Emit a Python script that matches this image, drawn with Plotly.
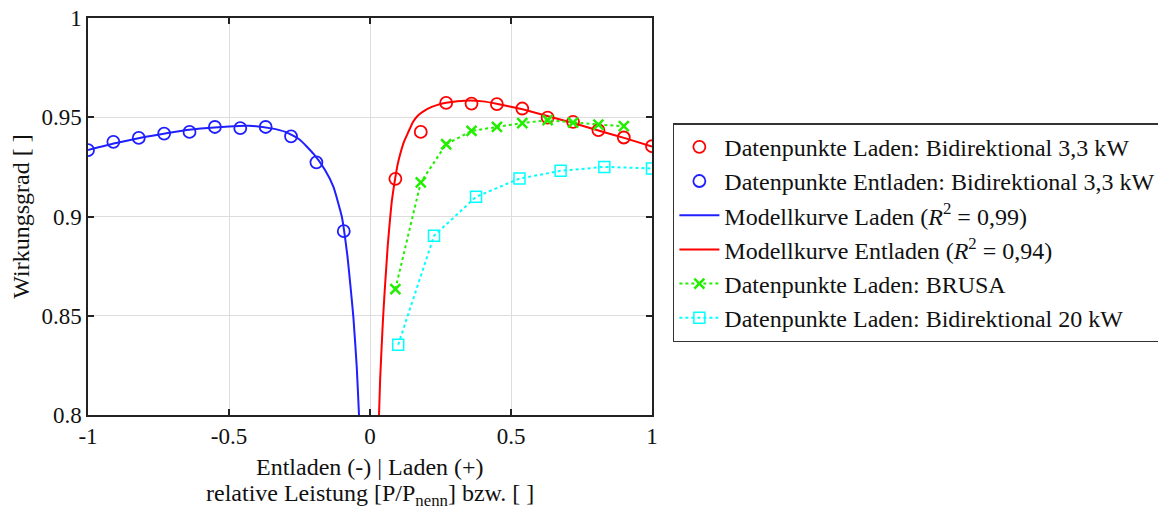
import plotly.graph_objects as go

# ---- data ----
blue_pts_x = [-1.0, -0.91, -0.82, -0.73, -0.64, -0.55, -0.46, -0.37, -0.28, -0.19, -0.093]
blue_pts_y = [0.9334, 0.9376, 0.9396, 0.9418, 0.9426, 0.9451, 0.9445, 0.9451, 0.9404, 0.9273, 0.8926]

red_pts_x = [0.09, 0.18, 0.27, 0.36, 0.45, 0.54, 0.63, 0.72, 0.81, 0.90, 1.0]
red_pts_y = [0.919, 0.9426, 0.9572, 0.9569, 0.9566, 0.9544, 0.9498, 0.9477, 0.9435, 0.9398, 0.9354]

blue_model_x = [-1.0, -0.9, -0.8, -0.7, -0.6, -0.5, -0.43, -0.35, -0.3, -0.25, -0.2, -0.16, -0.13,
                -0.1, -0.092, -0.08, -0.07, -0.059, -0.047, -0.039, -0.036]
blue_model_y = [0.9335, 0.9370, 0.9400, 0.9425, 0.9443, 0.9454, 0.9457, 0.9444, 0.9426, 0.9388,
                0.9315, 0.9235, 0.9150, 0.9000, 0.8930, 0.8800, 0.8660, 0.8494, 0.8242, 0.8000, 0.790]

red_model_x = [0.030, 0.032, 0.036, 0.041, 0.046, 0.051, 0.057, 0.063, 0.070, 0.077, 0.083, 0.089,
               0.097, 0.106, 0.120, 0.136, 0.152, 0.171, 0.195, 0.219, 0.245, 0.27, 0.31,
               0.355, 0.40, 0.449, 0.541, 0.632, 0.723, 0.813, 0.904, 1.0]
red_model_y = [0.790, 0.800, 0.818, 0.8335, 0.848, 0.860, 0.873, 0.8855, 0.897, 0.9074, 0.9135, 0.919,
               0.9255, 0.9309, 0.9375, 0.9426, 0.9475, 0.951, 0.9535, 0.9552, 0.9565, 0.9573, 0.9581,
               0.9585, 0.9580, 0.9568, 0.954, 0.9505, 0.947, 0.9432, 0.9395, 0.9352]

brusa_x = [0.09, 0.18, 0.27, 0.36, 0.45, 0.54, 0.63, 0.72, 0.81, 0.90]
brusa_y = [0.8634, 0.9172, 0.9364, 0.9431, 0.9451, 0.9471, 0.9485, 0.9473, 0.9463, 0.9455]

bidi20_x = [0.10, 0.227, 0.376, 0.53, 0.676, 0.831, 1.0]
bidi20_y = [0.8354, 0.8903, 0.9099, 0.9191, 0.923, 0.925, 0.9242]

x_ticks = [-1, -0.5, 0, 0.5, 1]
x_tick_labels = ["-1", "-0.5", "0", "0.5", "1"]
y_ticks = [0.8, 0.85, 0.9, 0.95, 1]
y_tick_labels = ["0.8", "0.85", "0.9", "0.95", "1"]

x_title_1 = "Entladen (-) | Laden (+)"
x_title_2 = "relative Leistung [P/P<sub>nenn</sub>] bzw. [ ]"
y_title = "Wirkungsgrad [ ]"

RED = "#ff0000"
BLUE = "#1f1fff"
GREEN = "#22ee00"
CYAN = "#00ffff"
FONT = "Liberation Serif, Times New Roman, serif"
TXT = "#111111"

fig = go.Figure()

fig.add_trace(go.Scatter(
    x=red_pts_x, y=red_pts_y, mode="markers",
    name="Datenpunkte Laden: Bidirektional 3,3 kW",
    marker=dict(symbol="circle-open", size=12, color=RED, line=dict(width=1.8, color=RED)),
))
fig.add_trace(go.Scatter(
    x=blue_pts_x, y=blue_pts_y, mode="markers",
    name="Datenpunkte Entladen: Bidirektional 3,3 kW",
    marker=dict(symbol="circle-open", size=12, color=BLUE, line=dict(width=1.8, color=BLUE)),
))
fig.add_trace(go.Scatter(
    x=blue_model_x, y=blue_model_y, mode="lines",
    name="Modellkurve Laden (<i>R</i><sup>2</sup> = 0,99)",
    line=dict(color=BLUE, width=2, shape="spline", smoothing=0.5),
))
fig.add_trace(go.Scatter(
    x=red_model_x, y=red_model_y, mode="lines",
    name="Modellkurve Entladen (<i>R</i><sup>2</sup> = 0,94)",
    line=dict(color=RED, width=2, shape="spline", smoothing=0.3),
))
fig.add_trace(go.Scatter(
    x=brusa_x, y=brusa_y, mode="lines+markers",
    name="Datenpunkte Laden: BRUSA",
    line=dict(color=GREEN, width=2, dash="dot"),
    marker=dict(symbol="x-thin-open", size=10, color=GREEN, line=dict(width=2.5, color=GREEN)),
))
fig.add_trace(go.Scatter(
    x=bidi20_x, y=bidi20_y, mode="lines+markers",
    name="Datenpunkte Laden: Bidirektional 20 kW",
    line=dict(color=CYAN, width=2, dash="dot"),
    marker=dict(symbol="square-open", size=11, color=CYAN, line=dict(width=1.5, color=CYAN)),
))

axis_common = dict(
    showline=True, linecolor="#222222", linewidth=1.5, mirror="ticks",
    ticks="inside", ticklen=6, tickcolor="#222222", tickwidth=1.5,
    showgrid=True, gridcolor="#dddddd", gridwidth=1, zeroline=False,
    tickfont=dict(family=FONT, size=23, color=TXT),
    automargin=False, ticklabeloverflow="allow",
)

fig.update_xaxes(range=[-1, 1], tickvals=x_ticks, ticktext=x_tick_labels, **axis_common)
fig.update_yaxes(
    range=[0.8, 1], tickvals=y_ticks, ticktext=y_tick_labels,
    title=dict(text=y_title, font=dict(family=FONT, size=24, color=TXT), standoff=5),
    **axis_common,
)

fig.update_layout(
    width=1158, height=512,
    margin=dict(l=88, r=506, t=18, b=97, autoexpand=False),
    paper_bgcolor="white", plot_bgcolor="white",
    font=dict(family=FONT, size=24, color=TXT),
    showlegend=True,
    legend=dict(
        x=1.037, y=0.735, xanchor="left", yanchor="top",
        bordercolor="#333333", borderwidth=1.5, bgcolor="white",
        font=dict(family=FONT, size=24, color=TXT),
        itemwidth=40, tracegroupgap=0,
    ),
    annotations=[
        dict(text=x_title_1, xref="paper", yref="paper", x=0.5, y=-0.131,
             xanchor="center", yanchor="middle", showarrow=False,
             font=dict(family=FONT, size=24, color=TXT)),
        dict(text=x_title_2, xref="paper", yref="paper", x=0.5, y=-0.202,
             xanchor="center", yanchor="middle", showarrow=False,
             font=dict(family=FONT, size=24, color=TXT)),
    ],
)

# remove the default page margin so the figure fills the window exactly
fig.write_html("out.html", config={"displayModeBar": False},
               post_script="document.body.style.margin='0';")
